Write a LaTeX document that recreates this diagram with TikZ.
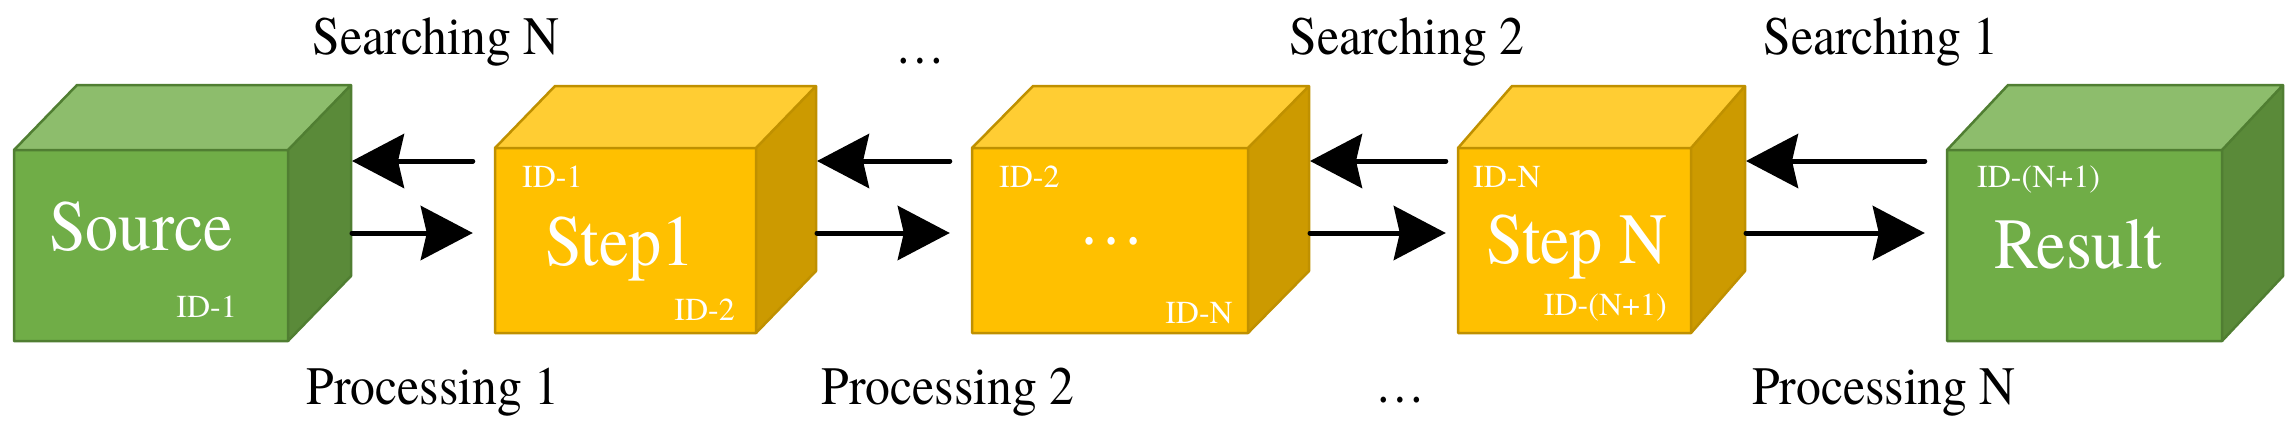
\documentclass[tikz,border=0pt]{standalone}
\usepackage{fontspec}
\setmainfont{TeX Gyre Termes}
\newfontfamily\condf[FakeStretch=0.92]{TeX Gyre Termes}
\usetikzlibrary{arrows.meta,fit}
\definecolor{gfront}{HTML}{70AD47}
\definecolor{gtop}{HTML}{8DBD6C}
\definecolor{gside}{HTML}{5A8A39}
\definecolor{gline}{HTML}{507E32}
\definecolor{yfront}{HTML}{FFC000}
\definecolor{ytop}{HTML}{FFCD33}
\definecolor{yside}{HTML}{CC9A00}
\definecolor{yline}{HTML}{BF9000}
% #1 name, #2 left, #3 top, #4 right, #5 bottom, #6 depth x, #7 depth y, #8 colour prefix
\newcommand{\mycube}[8]{%
  \fill[#8front] (#2,#3) rectangle (#4,#5);
  \fill[#8top] (#2,#3) -- (#2+#6,#3-#7) -- (#4+#6,#3-#7) -- (#4,#3) -- cycle;
  \fill[#8side] (#4,#3) -- (#4+#6,#3-#7) -- (#4+#6,#5-#7) -- (#4,#5) -- cycle;
  \draw[#8line, line width=2.5pt, line join=round]
    (#2,#5) -- (#2,#3) -- (#2+#6,#3-#7) -- (#4+#6,#3-#7) -- (#4+#6,#5-#7) -- (#4,#5) -- cycle
    (#2,#3) -- (#4,#3) -- (#4+#6,#3-#7)
    (#4,#3) -- (#4,#5);
  \node[fit={(#2,#3) (#4,#5)}, inner sep=0pt] (#1) {};
  \coordinate (#1-back) at (#4+#6,#3);
}
\tikzset{
  arr/.style={line width=5pt, line cap=round, -{Stealth[length=52pt,width=54pt,inset=6pt]}},
  lab/.style={font=\condf\fontsize{54}{60}\selectfont, anchor=base, inner sep=0pt},
  big/.style={font=\condf\fontsize{72}{80}\selectfont, text=white, anchor=base, inner sep=0pt},
  idt/.style={font=\rmfamily\fontsize{32}{36}\selectfont, text=white, inner sep=0pt}
}
\begin{document}
\begin{tikzpicture}[x=1pt,y=-1pt]
\useasboundingbox (0,0) rectangle (2296,426);
% cubes
\mycube{src}{14}{150}{288}{341}{63}{65}{g}
\mycube{stepA}{495}{148}{756}{333}{60}{62}{y}
\mycube{mid}{972}{148}{1248}{333}{61}{62}{y}
\mycube{stepN}{1458}{148}{1691}{333}{54}{62}{y}
\mycube{res}{1947}{150}{2222}{341}{61}{65}{g}
% texts inside cubes
\node[big] (srcT) at (141,250) {Source};
\node[idt, anchor=base east] (srcID) at (237,317) {ID-1};
\node[idt, anchor=base west] (stepAIDa) at (522,187) {ID-1};
\node[big] (stepAT) at (620,265) {Step1};
\node[idt, anchor=base east] (stepAIDb) at (735,320) {ID-2};
\node[idt, anchor=base west] (midIDa) at (999,187) {ID-2};
\node[big] (midT) at (1112,244) {…};
\node[idt, anchor=base east] (midIDb) at (1233,323) {ID-N};
\node[idt, anchor=base west] (stepNIDa) at (1473,187) {ID-N};
\node[big] (stepNT) at (1577,263) {Step N};
\node[idt, anchor=base east] (stepNIDb) at (1667,315) {ID-(N+1)};
\node[idt, anchor=base west] (resID) at (1977,187) {ID-(N+1)};
\node[big] (resT) at (2078,268) {Result};
% rows of connectors
\coordinate (rA) at (0,161);
\coordinate (rB) at (0,233);
\coordinate (stepA-in) at ([xshift=-22pt]stepA.west);
\coordinate (mid-in) at ([xshift=-22pt]mid.west);
\coordinate (stepN-in) at ([xshift=-12pt]stepN.west);
\coordinate (res-in) at ([xshift=-22pt]res.west);
\draw[arr] (stepA-in |- rA) -- ([xshift=1pt]src-back |- rA);
\draw[arr] ([xshift=1pt]src-back |- rB) -- (stepA-in |- rB);
\draw[arr] (mid-in |- rA) -- ([xshift=1pt]stepA-back |- rA);
\draw[arr] ([xshift=1pt]stepA-back |- rB) -- (mid-in |- rB);
\draw[arr] (stepN-in |- rA) -- ([xshift=1pt]mid-back |- rA);
\draw[arr] ([xshift=1pt]mid-back |- rB) -- (stepN-in |- rB);
\draw[arr] (res-in |- rA) -- ([xshift=1pt]stepN-back |- rA);
\draw[arr] ([xshift=1pt]stepN-back |- rB) -- (res-in |- rB);
% labels
\node[lab] (sN) at (436,54) {Searching N};
\node[lab] (sDots) at (920,63) {…};
\node[lab] (s2) at (1407,54) {Searching 2};
\node[lab] (s1) at (1881,54) {Searching 1};
\node[lab] (p1) at (433,404) {Processing 1};
\node[lab] (p2) at (948,404) {Processing 2};
\node[lab] (pDots) at (1400,402) {…};
\node[lab] (pN) at (1884,404) {Processing N};
\end{tikzpicture}
\end{document}
